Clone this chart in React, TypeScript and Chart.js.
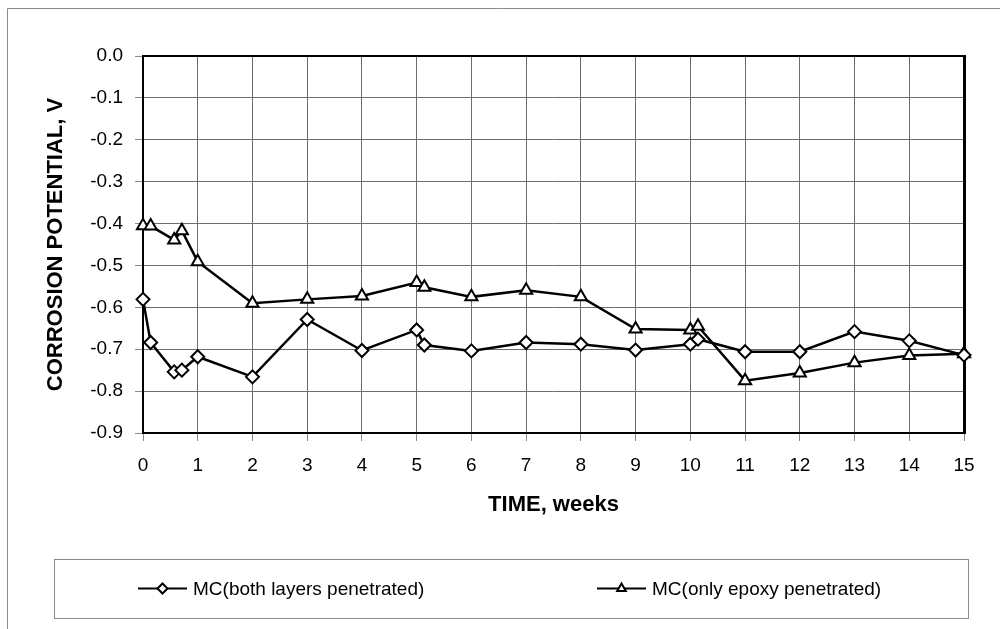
import React, { useEffect, useRef } from 'react';
import { Chart, registerables } from 'chart.js';

Chart.register(...registerables);

// ---- data ----
const bothWeeks = [0, 0.14, 0.57, 0.71, 1, 2, 3, 4, 5, 5.14, 6, 7, 8, 9, 10, 10.14, 11, 12, 13, 14, 15];
const bothValues = [-0.581, -0.684, -0.754, -0.75, -0.718, -0.766, -0.629, -0.703, -0.654, -0.69, -0.704, -0.684, -0.688, -0.702, -0.688, -0.676, -0.706, -0.706, -0.658, -0.68, -0.714];
const epoxyWeeks = [0, 0.14, 0.57, 0.71, 1, 2, 3, 4, 5, 5.14, 6, 7, 8, 9, 10, 10.14, 11, 12, 13, 14, 15];
const epoxyValues = [-0.405, -0.406, -0.439, -0.417, -0.491, -0.59, -0.581, -0.573, -0.541, -0.552, -0.575, -0.559, -0.575, -0.652, -0.654, -0.645, -0.775, -0.757, -0.732, -0.715, -0.711];
const seriesLabels = ['MC(both layers penetrated)', 'MC(only epoxy penetrated)'];
const xTitle = 'TIME, weeks';
const yTitle = 'CORROSION POTENTIAL, V';
const xMin = 0;
const xMax = 15;
const yMin = -0.9;
const yMax = 0;

const FONT = '"Liberation Sans", Arial, Helvetica, sans-serif';

function toPoints(xs: number[], ys: number[]) {
  return xs.map((x, i) => ({ x, y: ys[i] }));
}

function drawMarker(ctx: CanvasRenderingContext2D, style: string, x: number, y: number, r: number) {
  ctx.beginPath();
  if (style === 'rectRot') {
    ctx.moveTo(x - r, y);
    ctx.lineTo(x, y - r);
    ctx.lineTo(x + r, y);
    ctx.lineTo(x, y + r);
  } else {
    ctx.moveTo(x, y - r);
    ctx.lineTo(x + r * Math.sin(Math.PI * 2 / 3), y - r * Math.cos(Math.PI * 2 / 3));
    ctx.lineTo(x + r * Math.sin(Math.PI * 4 / 3), y - r * Math.cos(Math.PI * 4 / 3));
  }
  ctx.closePath();
  ctx.fillStyle = '#fff';
  ctx.fill();
  ctx.lineWidth = 2;
  ctx.strokeStyle = '#000';
  ctx.stroke();
}

const decorPlugin = {
  id: 'decor',
  beforeDraw(chart: any) {
    const ctx = chart.ctx as CanvasRenderingContext2D;
    ctx.save();
    ctx.fillStyle = '#fff';
    ctx.fillRect(0, 0, chart.width, chart.height);
    // outer chart frame (extends past the right and bottom of the picture)
    ctx.strokeStyle = '#8a8a8a';
    ctx.lineWidth = 1;
    ctx.beginPath();
    ctx.moveTo(7.5, chart.height);
    ctx.lineTo(7.5, 8.5);
    ctx.lineTo(chart.width, 8.5);
    ctx.stroke();
    ctx.restore();
  },
  beforeDatasetsDraw(chart: any) {
    const ctx = chart.ctx as CanvasRenderingContext2D;
    const a = chart.chartArea;
    ctx.save();
    ctx.strokeStyle = '#000';
    ctx.lineWidth = 2;
    ctx.strokeRect(a.left, a.top, a.right - a.left, a.bottom - a.top);
    ctx.lineWidth = 3;
    ctx.beginPath();
    ctx.moveTo(a.right + 0.5, a.top - 1);
    ctx.lineTo(a.right + 0.5, a.bottom + 1);
    ctx.stroke();
    ctx.restore();
  },
  afterDraw(chart: any) {
    const ctx = chart.ctx as CanvasRenderingContext2D;
    ctx.save();
    // legend box
    const bx = 54, by = 559, bw = 914, bh = 59;
    ctx.strokeStyle = '#8a8a8a';
    ctx.lineWidth = 1;
    ctx.strokeRect(bx + 0.5, by + 0.5, bw, bh);
    const cy = by + bh / 2;
    const starts = [138, 597];
    chart.data.datasets.forEach((ds: any, i: number) => {
      const x0 = starts[i];
      ctx.strokeStyle = '#000';
      ctx.lineWidth = 2;
      ctx.beginPath();
      ctx.moveTo(x0, cy);
      ctx.lineTo(x0 + 49, cy);
      ctx.stroke();
      drawMarker(ctx, ds.pointStyle, x0 + 24.5, cy, 5);
      ctx.fillStyle = '#000';
      ctx.font = `19px ${FONT}`;
      ctx.textAlign = 'left';
      ctx.textBaseline = 'middle';
      ctx.fillText(ds.label, x0 + 55, cy + 1);
    });
    ctx.restore();
  },
};

export default function App() {
  const ref = useRef<HTMLCanvasElement>(null);

  useEffect(() => {
    const canvas = ref.current;
    if (!canvas) return;
    const chart = new Chart(canvas, {
      type: 'line',
      data: {
        datasets: [
          {
            label: seriesLabels[0],
            data: toPoints(bothWeeks, bothValues),
            borderColor: '#000',
            borderWidth: 2.5,
            pointStyle: 'rectRot',
            pointRadius: 6.5,
            pointBorderWidth: 2,
            pointBackgroundColor: '#fff',
            pointBorderColor: '#000',
            tension: 0,
            clip: false,
          },
          {
            label: seriesLabels[1],
            data: toPoints(epoxyWeeks, epoxyValues),
            borderColor: '#000',
            borderWidth: 2.5,
            pointStyle: 'triangle',
            pointRadius: 7,
            pointBorderWidth: 2,
            pointBackgroundColor: '#fff',
            pointBorderColor: '#000',
            tension: 0,
            clip: false,
          },
        ],
      },
      options: {
        animation: false,
        responsive: false,
        devicePixelRatio: 1,
        layout: { padding: { left: 0, top: 56, right: 36, bottom: 111 } },
        plugins: {
          legend: { display: false },
          tooltip: { enabled: false },
        },
        scales: {
          x: {
            type: 'linear',
            min: xMin,
            max: xMax,
            afterFit: (s: any) => { s.height = 85; },
            ticks: {
              stepSize: 1,
              color: '#000',
              padding: 13,
              font: { family: FONT, size: 19 },
              maxRotation: 0,
            },
            grid: { color: '#6e6e6e', lineWidth: 1, tickLength: 8, tickColor: '#8a8a8a' },
            border: { display: false },
            title: {
              display: true,
              text: xTitle,
              color: '#000',
              font: { family: FONT, size: 22, weight: 'bold' },
              padding: 0,
            },
          },
          y: {
            type: 'linear',
            min: yMin,
            max: yMax,
            afterFit: (s: any) => { s.width = 143; },
            ticks: {
              stepSize: 0.1,
              color: '#000',
              padding: 12,
              font: { family: FONT, size: 19 },
              callback: (v: any) => Number(v).toFixed(1),
            },
            grid: { color: '#6e6e6e', lineWidth: 1, tickLength: 8, tickColor: '#8a8a8a' },
            border: { display: false },
            title: {
              display: true,
              text: yTitle,
              color: '#000',
              font: { family: FONT, size: 22, weight: 'bold' },
              padding: { top: 43, bottom: 0 },
            },
          },
        },
      },
      plugins: [decorPlugin],
    } as any);
    return () => chart.destroy();
  }, []);

  return (
    <div style={{ position: 'absolute', left: 0, top: 0, width: 1000, height: 629 }}>
      <canvas ref={ref} width={1000} height={629} style={{ width: '1000px', height: '629px', display: 'block' }} />
    </div>
  );
}
